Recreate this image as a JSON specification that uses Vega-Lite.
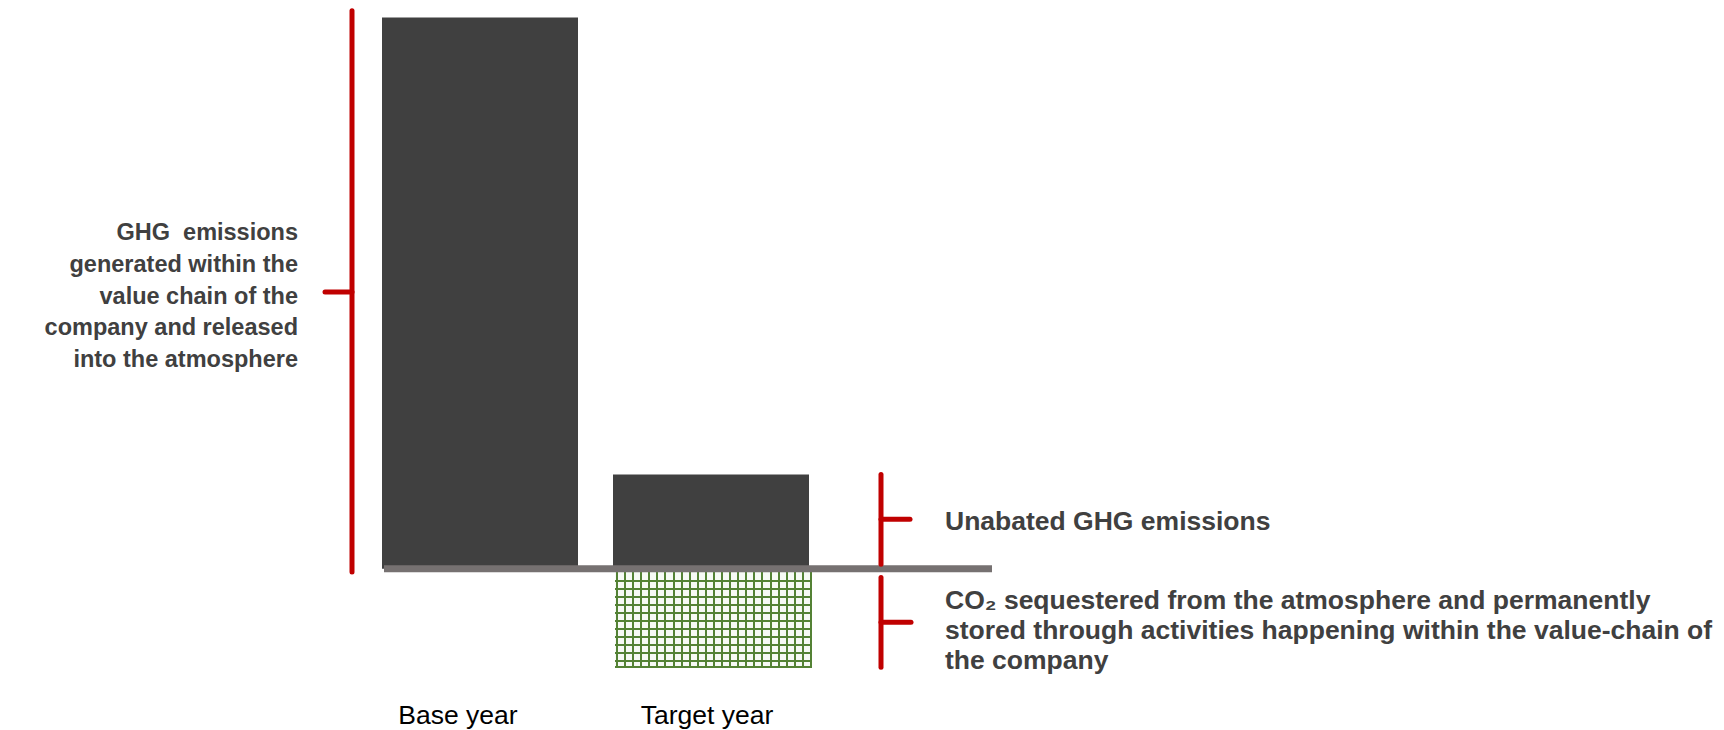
{
  "$schema": "https://vega.github.io/schema/vega-lite/v6.json",
  "width": 1724,
  "height": 730,
  "autosize": {"type": "fit", "contains": "padding"},
  "padding": 0,
  "background": "white",
  "config": {"view": {"stroke": null}, "text": {"font": "Liberation Sans"}},
  "encoding": {
    "x": {"field": "x0", "type": "quantitative", "scale": {"domain": [0, 1724], "nice": false, "zero": false}, "axis": null},
    "y": {"field": "y0", "type": "quantitative", "scale": {"domain": [-29.08, 103.17], "nice": false, "zero": false}, "axis": null}
  },
  "layer": [
    {
      "data": {"values": [
        {"label": "Base year", "x0": 382, "x1": 578, "y0": 0, "y1": 100},
        {"label": "Target year", "x0": 613, "x1": 809, "y0": 0, "y1": 17.1}
      ]},
      "mark": {"type": "rect", "fill": "#404040"},
      "encoding": {"x2": {"field": "x1"}, "y2": {"field": "y1"}}
    },
    {
      "data": {"values": [{"label": "CO2 sequestered", "x0": 615, "x1": 812, "y0": 0, "y1": -18}]},
      "layer": [
        {"mark": {"type": "rect", "fill": "#f7faf5"}, "encoding": {"x2": {"field": "x1"}, "y2": {"field": "y1"}}},
        {"mark": {"type": "rect", "fill": {"gradient": "linear", "x1": 0, "y1": 0, "x2": 1, "y2": 0, "stops": [
          {"offset": 0, "color": "rgba(84,130,53,0)"},
          {"offset": 0.0051, "color": "rgba(84,130,53,0)"}, {"offset": 0.0051, "color": "#548235"}, {"offset": 0.0152, "color": "#548235"}, {"offset": 0.0152, "color": "rgba(84,130,53,0)"},
          {"offset": 0.0461, "color": "rgba(84,130,53,0)"}, {"offset": 0.0461, "color": "#548235"}, {"offset": 0.0562, "color": "#548235"}, {"offset": 0.0562, "color": "rgba(84,130,53,0)"},
          {"offset": 0.0871, "color": "rgba(84,130,53,0)"}, {"offset": 0.0871, "color": "#548235"}, {"offset": 0.0973, "color": "#548235"}, {"offset": 0.0973, "color": "rgba(84,130,53,0)"},
          {"offset": 0.1281, "color": "rgba(84,130,53,0)"}, {"offset": 0.1281, "color": "#548235"}, {"offset": 0.1383, "color": "#548235"}, {"offset": 0.1383, "color": "rgba(84,130,53,0)"},
          {"offset": 0.1691, "color": "rgba(84,130,53,0)"}, {"offset": 0.1691, "color": "#548235"}, {"offset": 0.1793, "color": "#548235"}, {"offset": 0.1793, "color": "rgba(84,130,53,0)"},
          {"offset": 0.2102, "color": "rgba(84,130,53,0)"}, {"offset": 0.2102, "color": "#548235"}, {"offset": 0.2203, "color": "#548235"}, {"offset": 0.2203, "color": "rgba(84,130,53,0)"},
          {"offset": 0.2512, "color": "rgba(84,130,53,0)"}, {"offset": 0.2512, "color": "#548235"}, {"offset": 0.2613, "color": "#548235"}, {"offset": 0.2613, "color": "rgba(84,130,53,0)"},
          {"offset": 0.2922, "color": "rgba(84,130,53,0)"}, {"offset": 0.2922, "color": "#548235"}, {"offset": 0.3023, "color": "#548235"}, {"offset": 0.3023, "color": "rgba(84,130,53,0)"},
          {"offset": 0.3332, "color": "rgba(84,130,53,0)"}, {"offset": 0.3332, "color": "#548235"}, {"offset": 0.3434, "color": "#548235"}, {"offset": 0.3434, "color": "rgba(84,130,53,0)"},
          {"offset": 0.3742, "color": "rgba(84,130,53,0)"}, {"offset": 0.3742, "color": "#548235"}, {"offset": 0.3844, "color": "#548235"}, {"offset": 0.3844, "color": "rgba(84,130,53,0)"},
          {"offset": 0.4152, "color": "rgba(84,130,53,0)"}, {"offset": 0.4152, "color": "#548235"}, {"offset": 0.4254, "color": "#548235"}, {"offset": 0.4254, "color": "rgba(84,130,53,0)"},
          {"offset": 0.4562, "color": "rgba(84,130,53,0)"}, {"offset": 0.4562, "color": "#548235"}, {"offset": 0.4664, "color": "#548235"}, {"offset": 0.4664, "color": "rgba(84,130,53,0)"},
          {"offset": 0.4973, "color": "rgba(84,130,53,0)"}, {"offset": 0.4973, "color": "#548235"}, {"offset": 0.5074, "color": "#548235"}, {"offset": 0.5074, "color": "rgba(84,130,53,0)"},
          {"offset": 0.5383, "color": "rgba(84,130,53,0)"}, {"offset": 0.5383, "color": "#548235"}, {"offset": 0.5484, "color": "#548235"}, {"offset": 0.5484, "color": "rgba(84,130,53,0)"},
          {"offset": 0.5793, "color": "rgba(84,130,53,0)"}, {"offset": 0.5793, "color": "#548235"}, {"offset": 0.5894, "color": "#548235"}, {"offset": 0.5894, "color": "rgba(84,130,53,0)"},
          {"offset": 0.6203, "color": "rgba(84,130,53,0)"}, {"offset": 0.6203, "color": "#548235"}, {"offset": 0.6305, "color": "#548235"}, {"offset": 0.6305, "color": "rgba(84,130,53,0)"},
          {"offset": 0.6613, "color": "rgba(84,130,53,0)"}, {"offset": 0.6613, "color": "#548235"}, {"offset": 0.6715, "color": "#548235"}, {"offset": 0.6715, "color": "rgba(84,130,53,0)"},
          {"offset": 0.7023, "color": "rgba(84,130,53,0)"}, {"offset": 0.7023, "color": "#548235"}, {"offset": 0.7125, "color": "#548235"}, {"offset": 0.7125, "color": "rgba(84,130,53,0)"},
          {"offset": 0.7434, "color": "rgba(84,130,53,0)"}, {"offset": 0.7434, "color": "#548235"}, {"offset": 0.7535, "color": "#548235"}, {"offset": 0.7535, "color": "rgba(84,130,53,0)"},
          {"offset": 0.7844, "color": "rgba(84,130,53,0)"}, {"offset": 0.7844, "color": "#548235"}, {"offset": 0.7945, "color": "#548235"}, {"offset": 0.7945, "color": "rgba(84,130,53,0)"},
          {"offset": 0.8254, "color": "rgba(84,130,53,0)"}, {"offset": 0.8254, "color": "#548235"}, {"offset": 0.8355, "color": "#548235"}, {"offset": 0.8355, "color": "rgba(84,130,53,0)"},
          {"offset": 0.8664, "color": "rgba(84,130,53,0)"}, {"offset": 0.8664, "color": "#548235"}, {"offset": 0.8766, "color": "#548235"}, {"offset": 0.8766, "color": "rgba(84,130,53,0)"},
          {"offset": 0.9074, "color": "rgba(84,130,53,0)"}, {"offset": 0.9074, "color": "#548235"}, {"offset": 0.9176, "color": "#548235"}, {"offset": 0.9176, "color": "rgba(84,130,53,0)"},
          {"offset": 0.9484, "color": "rgba(84,130,53,0)"}, {"offset": 0.9484, "color": "#548235"}, {"offset": 0.9586, "color": "#548235"}, {"offset": 0.9586, "color": "rgba(84,130,53,0)"},
          {"offset": 0.9894, "color": "rgba(84,130,53,0)"}, {"offset": 0.9894, "color": "#548235"}, {"offset": 0.9996, "color": "#548235"}, {"offset": 0.9996, "color": "rgba(84,130,53,0)"},
          {"offset": 1, "color": "rgba(84,130,53,0)"}
        ]}}, "encoding": {"x2": {"field": "x1"}, "y2": {"field": "y1"}}},
        {"mark": {"type": "rect", "fill": {"gradient": "linear", "x1": 0, "y1": 0, "x2": 0, "y2": 1, "stops": [
          {"offset": 0, "color": "rgba(84,130,53,0)"},
          {"offset": 0.1127, "color": "rgba(84,130,53,0)"}, {"offset": 0.1127, "color": "#548235"}, {"offset": 0.1328, "color": "#548235"}, {"offset": 0.1328, "color": "rgba(84,130,53,0)"},
          {"offset": 0.1934, "color": "rgba(84,130,53,0)"}, {"offset": 0.1934, "color": "#548235"}, {"offset": 0.2135, "color": "#548235"}, {"offset": 0.2135, "color": "rgba(84,130,53,0)"},
          {"offset": 0.2740, "color": "rgba(84,130,53,0)"}, {"offset": 0.2740, "color": "#548235"}, {"offset": 0.2942, "color": "#548235"}, {"offset": 0.2942, "color": "rgba(84,130,53,0)"},
          {"offset": 0.3547, "color": "rgba(84,130,53,0)"}, {"offset": 0.3547, "color": "#548235"}, {"offset": 0.3749, "color": "#548235"}, {"offset": 0.3749, "color": "rgba(84,130,53,0)"},
          {"offset": 0.4354, "color": "rgba(84,130,53,0)"}, {"offset": 0.4354, "color": "#548235"}, {"offset": 0.4555, "color": "#548235"}, {"offset": 0.4555, "color": "rgba(84,130,53,0)"},
          {"offset": 0.5161, "color": "rgba(84,130,53,0)"}, {"offset": 0.5161, "color": "#548235"}, {"offset": 0.5362, "color": "#548235"}, {"offset": 0.5362, "color": "rgba(84,130,53,0)"},
          {"offset": 0.5968, "color": "rgba(84,130,53,0)"}, {"offset": 0.5968, "color": "#548235"}, {"offset": 0.6169, "color": "#548235"}, {"offset": 0.6169, "color": "rgba(84,130,53,0)"},
          {"offset": 0.6775, "color": "rgba(84,130,53,0)"}, {"offset": 0.6775, "color": "#548235"}, {"offset": 0.6976, "color": "#548235"}, {"offset": 0.6976, "color": "rgba(84,130,53,0)"},
          {"offset": 0.7582, "color": "rgba(84,130,53,0)"}, {"offset": 0.7582, "color": "#548235"}, {"offset": 0.7783, "color": "#548235"}, {"offset": 0.7783, "color": "rgba(84,130,53,0)"},
          {"offset": 0.8388, "color": "rgba(84,130,53,0)"}, {"offset": 0.8388, "color": "#548235"}, {"offset": 0.8590, "color": "#548235"}, {"offset": 0.8590, "color": "rgba(84,130,53,0)"},
          {"offset": 0.9195, "color": "rgba(84,130,53,0)"}, {"offset": 0.9195, "color": "#548235"}, {"offset": 0.9396, "color": "#548235"}, {"offset": 0.9396, "color": "rgba(84,130,53,0)"},
          {"offset": 0.9799, "color": "rgba(84,130,53,0)"}, {"offset": 0.9799, "color": "#548235"}, {"offset": 1, "color": "#548235"}
        ]}}, "encoding": {"x2": {"field": "x1"}, "y2": {"field": "y1"}}}
      ]
    },
    {
      "data": {"values": [{"x0": 384, "x1": 992, "y0": 0, "y1": 0}]},
      "mark": {"type": "rule", "stroke": "#767171", "strokeWidth": 7},
      "encoding": {"x2": {"field": "x1"}, "y2": {"field": "y1"}}
    },
    {
      "data": {"values": [
        {"bracket": "emissions", "x0": 352, "x1": 352, "y0": -0.6, "y1": 101.2},
        {"bracket": "emissions", "x0": 325, "x1": 352, "y0": 50.2, "y1": 50.2},
        {"bracket": "unabated", "x0": 881, "x1": 881, "y0": 0.8, "y1": 17.1},
        {"bracket": "unabated", "x0": 881, "x1": 910, "y0": 8.97, "y1": 8.97},
        {"bracket": "sequestered", "x0": 881, "x1": 881, "y0": -17.9, "y1": -1.6},
        {"bracket": "sequestered", "x0": 881, "x1": 911, "y0": -9.7, "y1": -9.7}
      ]},
      "mark": {"type": "rule", "stroke": "#C00000", "strokeWidth": 5, "strokeCap": "round"},
      "encoding": {"x2": {"field": "x1"}, "y2": {"field": "y1"}}
    },
    {
      "data": {"values": [{"text": "GHG\u00a0 emissions\ngenerated within the\nvalue chain of the\ncompany and released\ninto the atmosphere", "x0": 298, "y0": 60.9}]},
      "mark": {"type": "text", "align": "right", "baseline": "middle", "fontSize": 23.5, "fontWeight": "bold", "lineHeight": 31.8, "lineBreak": "\n", "color": "#404040"},
      "encoding": {"text": {"field": "text"}}
    },
    {
      "data": {"values": [
        {"text": "Unabated GHG emissions", "x0": 945, "y0": 8.5},
        {"text": "CO₂ sequestered from the atmosphere and permanently\nstored through activities happening within the value-chain of\nthe company", "x0": 945, "y0": -5.8}
      ]},
      "mark": {"type": "text", "align": "left", "baseline": "middle", "fontSize": 26.5, "fontWeight": "bold", "lineHeight": 30.3, "lineBreak": "\n", "color": "#404040"},
      "encoding": {"text": {"field": "text"}}
    },
    {
      "data": {"values": [
        {"text": "Base year", "x0": 458, "y0": -26.8},
        {"text": "Target year", "x0": 707, "y0": -26.8}
      ]},
      "mark": {"type": "text", "align": "center", "baseline": "middle", "fontSize": 26.5, "color": "#000000"},
      "encoding": {"text": {"field": "text"}}
    }
  ]
}
